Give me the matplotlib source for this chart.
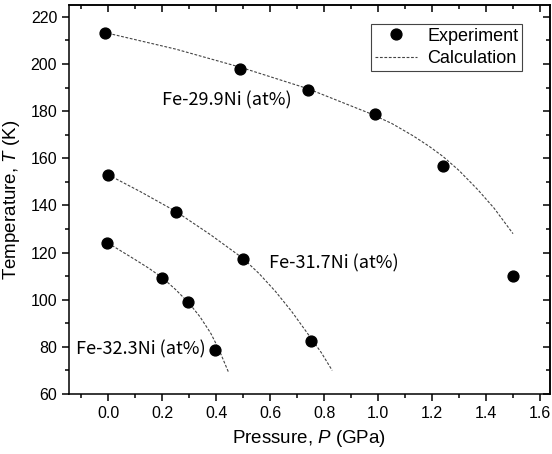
import matplotlib as mpl

mpl.use('Agg')

import matplotlib.pyplot as plt
from matplotlib.ticker import MultipleLocator

plt.rcParams['font.family'] = ['Liberation Sans', 'DejaVu Sans']
plt.rcParams['mathtext.fontset'] = 'custom'
plt.rcParams['mathtext.it'] = 'Liberation Sans:italic'
plt.rcParams['mathtext.rm'] = 'Liberation Sans'

# experiment points (P in GPa, T in K)
exp_p_299 = [-0.01, 0.49, 0.74, 0.99, 1.24, 1.50]
exp_t_299 = [213.1, 198.0, 189.0, 178.8, 156.8, 110.2]
exp_p_317 = [0.0, 0.25, 0.50, 0.75]
exp_t_317 = [153.1, 137.1, 117.2, 82.4]
exp_p_323 = [-0.005, 0.20, 0.295, 0.395]
exp_t_323 = [124.2, 109.2, 98.9, 78.8]

# calculated curves
calc_p_299 = [0.0, 0.25, 0.49, 0.74, 0.97, 1.05, 1.13, 1.19, 1.24, 1.30, 1.37, 1.43, 1.50]
calc_t_299 = [213.0, 206.3, 198.6, 189.5, 179.0, 174.8, 169.5, 165.0, 160.8, 154.8, 146.6, 138.8, 128.0]
calc_p_317 = [0.0, 0.12, 0.25, 0.38, 0.50, 0.56, 0.62, 0.68, 0.74, 0.79, 0.83]
calc_t_317 = [153.0, 145.8, 137.5, 127.5, 117.5, 111.0, 103.5, 95.0, 85.5, 77.5, 70.0]
calc_p_323 = [0.0, 0.10, 0.15, 0.20, 0.25, 0.30, 0.34, 0.38, 0.41, 0.445]
calc_t_323 = [124.0, 117.0, 113.4, 109.4, 104.3, 98.5, 92.8, 85.8, 79.0, 69.5]

labels = ['Fe-29.9Ni (at%)', 'Fe-31.7Ni (at%)', 'Fe-32.3Ni (at%)']
label_pos = [(0.20, 184.4), (0.597, 115.2), (-0.12, 78.8)]

fig = plt.figure(figsize=(5.52, 4.54), dpi=100)
ax = fig.add_axes([69 / 552, 60 / 454, 481 / 552, 389 / 454])

dash = dict(color='#444444', lw=0.8, ls=(0, (2.5, 1.5)))
ax.plot(calc_p_299, calc_t_299, **dash, label='Calculation')
ax.plot(calc_p_317, calc_t_317, **dash)
ax.plot(calc_p_323, calc_t_323, **dash)

dots = dict(ls='none', marker='o', ms=7.8, color='black')
ax.plot(exp_p_299, exp_t_299, **dots, label='Experiment')
ax.plot(exp_p_317, exp_t_317, **dots)
ax.plot(exp_p_323, exp_t_323, **dots)

for txt, (x, y) in zip(labels, label_pos):
    ax.text(x, y, txt, fontsize=13, ha='left', va='center',
            family=['Noto Sans CJK JP', 'DejaVu Sans'])

ax.set_xlim(-0.145, 1.637)
ax.set_ylim(60, 225)
ax.xaxis.set_major_locator(MultipleLocator(0.2))
ax.xaxis.set_minor_locator(MultipleLocator(0.1))
ax.yaxis.set_major_locator(MultipleLocator(20))
ax.yaxis.set_minor_locator(MultipleLocator(10))
ax.set_xticks([0.0, 0.2, 0.4, 0.6, 0.8, 1.0, 1.2, 1.4, 1.6])
ax.set_xticklabels(['0.0', '0.2', '0.4', '0.6', '0.8', '1.0', '1.2', '1.4', '1.6'])
ax.tick_params(which='major', direction='out', length=5, width=1.1, labelsize=11.5)
ax.tick_params(which='minor', direction='out', length=3, width=1.1)

# top / right ticks point inward
top = ax.secondary_xaxis('top')
top.xaxis.set_major_locator(MultipleLocator(0.2))
top.xaxis.set_minor_locator(MultipleLocator(0.1))
top.tick_params(which='major', direction='in', length=5, width=1.1, labeltop=False)
top.tick_params(which='minor', direction='in', length=3, width=1.1)
right = ax.secondary_yaxis('right')
right.yaxis.set_major_locator(MultipleLocator(20))
right.yaxis.set_minor_locator(MultipleLocator(10))
right.tick_params(which='major', direction='in', length=5, width=1.1, labelright=False)
right.tick_params(which='minor', direction='in', length=3, width=1.1)

for sp in list(ax.spines.values()) + [top.spines['top'], right.spines['right']]:
    sp.set_linewidth(1.1)

ax.set_xlabel('Pressure, $\\mathit{P}$ (GPa)', fontsize=13.5, labelpad=5)
ax.set_ylabel('Temperature, $\\mathit{T}$ (K)', fontsize=13.5, labelpad=6)

handles, names = ax.get_legend_handles_labels()
leg = ax.legend(handles[::-1], names[::-1], loc='upper right',
                bbox_to_anchor=(0.942, 0.951), fontsize=13, fancybox=False,
                framealpha=1, edgecolor='#444444', borderpad=0.2,
                handlelength=2.3, handletextpad=0.6, labelspacing=0.3,
                borderaxespad=0)
leg.get_frame().set_linewidth(0.8)

fig.savefig('out.png', dpi=100)
